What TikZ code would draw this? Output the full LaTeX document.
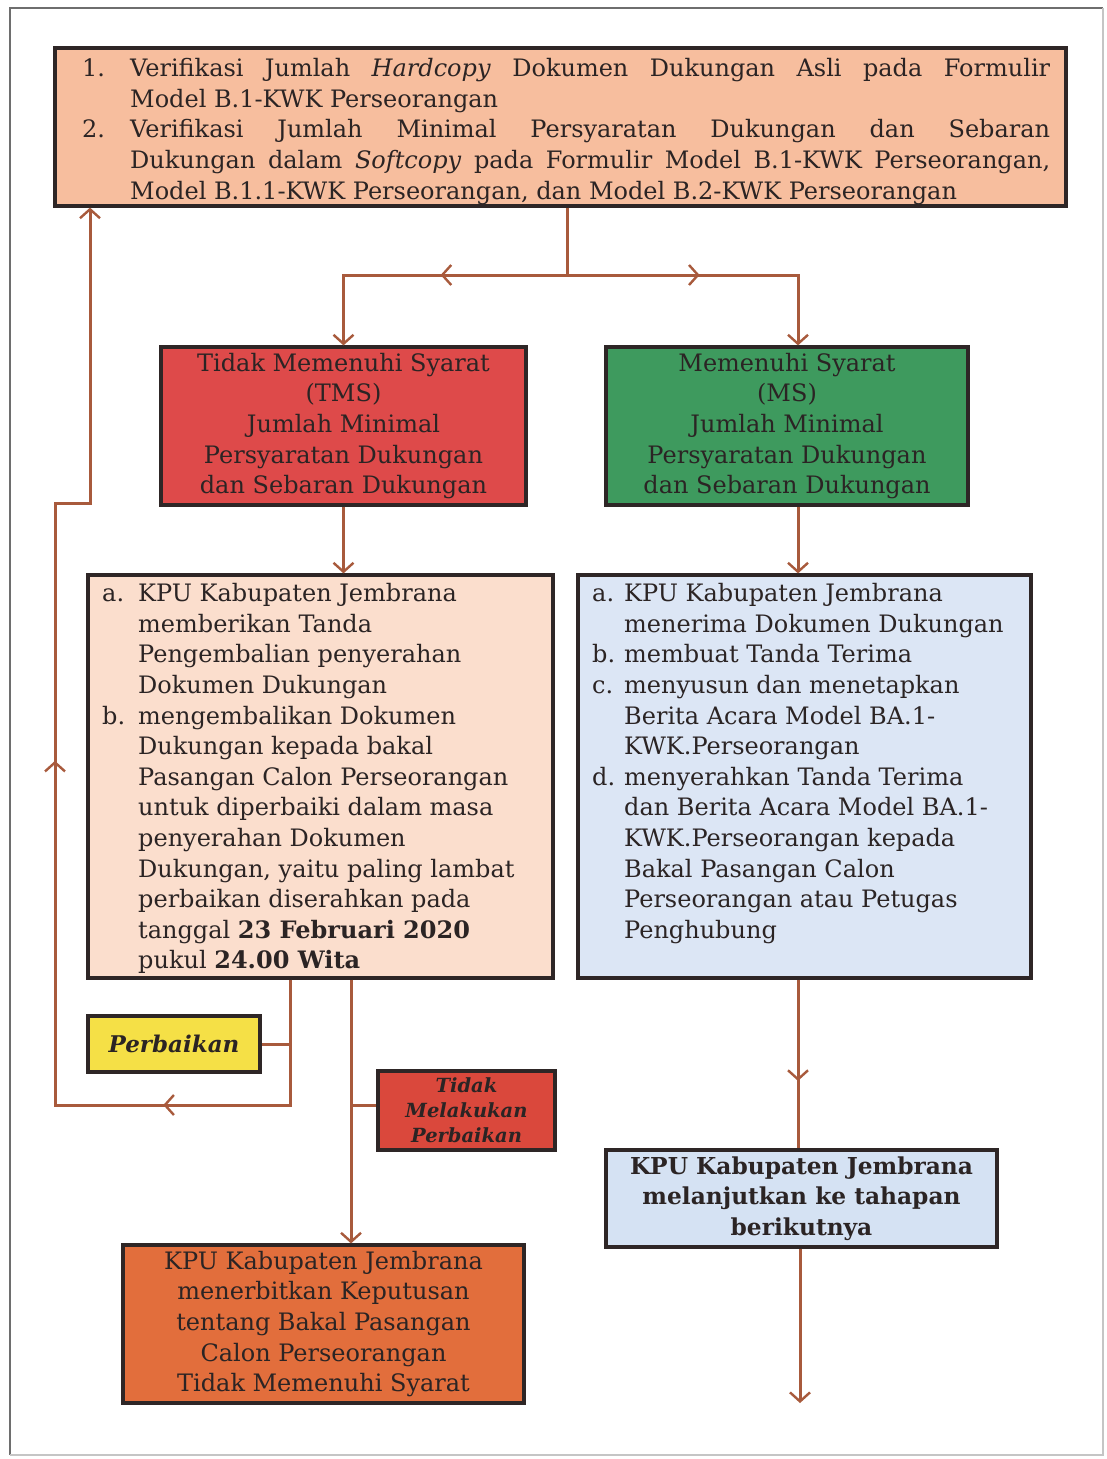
\documentclass[tikz,border=0pt]{standalone}
\usepackage{fontspec}
\setmainfont{DejaVu Serif}
\usetikzlibrary{arrows.meta,decorations.markings}
\definecolor{boxline}{HTML}{2E2626}
\definecolor{arrowc}{HTML}{A85A3C}
\definecolor{textc}{HTML}{2B2424}
\definecolor{peach}{HTML}{F7BE9E}
\definecolor{tmsred}{HTML}{DE4A4A}
\definecolor{msgreen}{HTML}{3E9A5E}
\definecolor{lpeach}{HTML}{FBDECD}
\definecolor{lblue}{HTML}{DCE6F5}
\definecolor{yel}{HTML}{F5E046}
\definecolor{tdred}{HTML}{DA483C}
\definecolor{orng}{HTML}{E26E3C}
\definecolor{nblue}{HTML}{D5E2F3}
\definecolor{framec}{HTML}{6E6E6E}
\newcommand{\bodyfont}{\fontsize{24}{30.6}\selectfont}
\tikzset{
  box/.style={draw=boxline, line width=3.2pt, rectangle, inner sep=0pt, text=textc, align=center, font=\bodyfont},
  conn/.style={draw=arrowc, line width=3pt, line join=miter},
  tip/.tip={Straight Barb[length=9pt,width=20pt,line width=2.4pt]},
  midarrow/.style={postaction={decorate,decoration={markings,mark=at position #1 with {\arrow[arrowc]{Straight Barb[length=9pt,width=20pt,line width=2.4pt]}}}}},
  listtext/.style={anchor=north west, inner sep=0pt, text=textc, font=\bodyfont}
}
\begin{document}
\begin{tikzpicture}[x=1pt,y=-1pt]
\useasboundingbox (0,0) rectangle (1107,1459);
\fill[white] (0,0) rectangle (1107,1459);
% outer frame
\draw[framec, line width=1.6pt] (10,1455) -- (10,8) -- (1103,8);
\draw[framec!40, line width=1.2pt] (1103,8) -- (1103,1455) -- (10,1455);

% boxes
\node[box, fill=peach, minimum width=1011pt, minimum height=158pt] (top) at (560.5,127) {};
\node[listtext] (toptext) at (82,55) {\begin{tabular}{@{}l@{}l@{}}
\makebox[48pt][l]{1.} & \makebox[920pt][s]{Verifikasi Jumlah \textit{Hardcopy} Dokumen Dukungan Asli pada Formulir}\\
 & Model B.1-KWK Perseorangan\\
\makebox[48pt][l]{2.} & \makebox[920pt][s]{Verifikasi Jumlah Minimal Persyaratan Dukungan dan Sebaran}\\
 & \makebox[920pt][s]{Dukungan dalam \textit{Softcopy} pada Formulir Model B.1-KWK Perseorangan,}\\
 & Model B.1.1-KWK Perseorangan, dan Model B.2-KWK Perseorangan
\end{tabular}};

\node[box, fill=tmsred, minimum width=365pt, minimum height=158pt] (tms) at (343.5,426)
  {Tidak Memenuhi Syarat\\(TMS)\\Jumlah Minimal\\Persyaratan Dukungan\\dan Sebaran Dukungan};
\node[box, fill=msgreen, minimum width=362pt, minimum height=158pt] (ms) at (787,426)
  {Memenuhi Syarat\\(MS)\\Jumlah Minimal\\Persyaratan Dukungan\\dan Sebaran Dukungan};

\node[box, fill=lpeach, minimum width=465pt, minimum height=403pt] (lbox) at (320.5,776.5) {};
\node[listtext] (ltext) at (102,580) {\begin{tabular}{@{}l@{}l@{}}
\makebox[36pt][l]{a.} & KPU Kabupaten Jembrana\\
 & memberikan Tanda\\
 & Pengembalian penyerahan\\
 & Dokumen Dukungan\\
\makebox[36pt][l]{b.} & mengembalikan Dokumen\\
 & Dukungan kepada bakal\\
 & Pasangan Calon Perseorangan\\
 & untuk diperbaiki dalam masa\\
 & penyerahan Dokumen\\
 & Dukungan, yaitu paling lambat\\
 & perbaikan diserahkan pada\\
 & tanggal \textbf{23 Februari 2020}\\
 & pukul \textbf{24.00 Wita}
\end{tabular}};

\node[box, fill=lblue, minimum width=453pt, minimum height=403pt] (rbox) at (804.5,776.5) {};
\node[listtext] (rtext) at (592,580) {\begin{tabular}{@{}l@{}l@{}}
\makebox[32pt][l]{a.} & KPU Kabupaten Jembrana\\
 & menerima Dokumen Dukungan\\
\makebox[32pt][l]{b.} & membuat Tanda Terima\\
\makebox[32pt][l]{c.} & menyusun dan menetapkan\\
 & Berita Acara Model BA.1-\\
 & KWK.Perseorangan\\
\makebox[32pt][l]{d.} & menyerahkan Tanda Terima\\
 & dan Berita Acara Model BA.1-\\
 & KWK.Perseorangan kepada\\
 & Bakal Pasangan Calon\\
 & Perseorangan atau Petugas\\
 & Penghubung
\end{tabular}};

\node[box, fill=yel, minimum width=172pt, minimum height=56pt, font=\fontsize{23}{26}\selectfont\bfseries\itshape] (perb) at (174,1044) {Perbaikan};
\node[box, fill=tdred, minimum width=177pt, minimum height=79pt, font=\fontsize{19.5}{25}\selectfont\bfseries\itshape] (tidak) at (466.5,1110.5) {Tidak\\Melakukan\\Perbaikan};
\node[box, fill=orng, minimum width=401pt, minimum height=158pt] (fin) at (323.5,1324)
  {KPU Kabupaten Jembrana\\menerbitkan Keputusan\\tentang Bakal Pasangan\\Calon Perseorangan\\Tidak Memenuhi Syarat};
\node[box, fill=nblue, minimum width=391pt, minimum height=97pt, font=\fontsize{23.3}{30.6}\selectfont\bfseries] (lanjut) at (801.5,1198.5)
  {KPU Kabupaten Jembrana\\melanjutkan ke tahapan\\berikutnya};

% connectors
\coordinate (split) at (567,275);
\coordinate (lsplit) at (343.5,275);
\coordinate (rsplit) at (798,275);
\draw[conn] (split |- top.south) -- (split);
\draw[conn, -tip, midarrow=0.43] (split) -- (lsplit) -- (lsplit |- tms.north);
\draw[conn, -tip, midarrow=0.44] (split) -- (rsplit) -- (rsplit |- ms.north);
\draw[conn, -tip] (tms.south) -- (tms.south |- lbox.north);
\draw[conn, -tip] (rsplit |- ms.south) -- (rsplit |- rbox.north);

\coordinate (lp1) at (290,1105);
\coordinate (lp2) at (55,1105);
\coordinate (lp3) at (55,503);
\coordinate (lp4) at (90,503);
\draw[conn, -tip, midarrow=0.195, midarrow=0.545] (lp1 |- lbox.south) -- (lp1) -- (lp2) -- (lp3) -- (lp4) -- (lp4 |- top.south);
\draw[conn] (perb.east) -- (perb.east -| lp1);

\coordinate (mid) at (351,1105);
\draw[conn, -tip] (mid |- lbox.south) -- (mid |- fin.north);
\draw[conn] (mid) -- (mid -| tidak.west);

\draw[conn, midarrow=0.6] (rsplit |- rbox.south) -- (rsplit |- lanjut.north);
\coordinate (endp) at (800,1403);
\draw[conn, -tip] (endp |- lanjut.south) -- (endp);
\end{tikzpicture}
\end{document}
